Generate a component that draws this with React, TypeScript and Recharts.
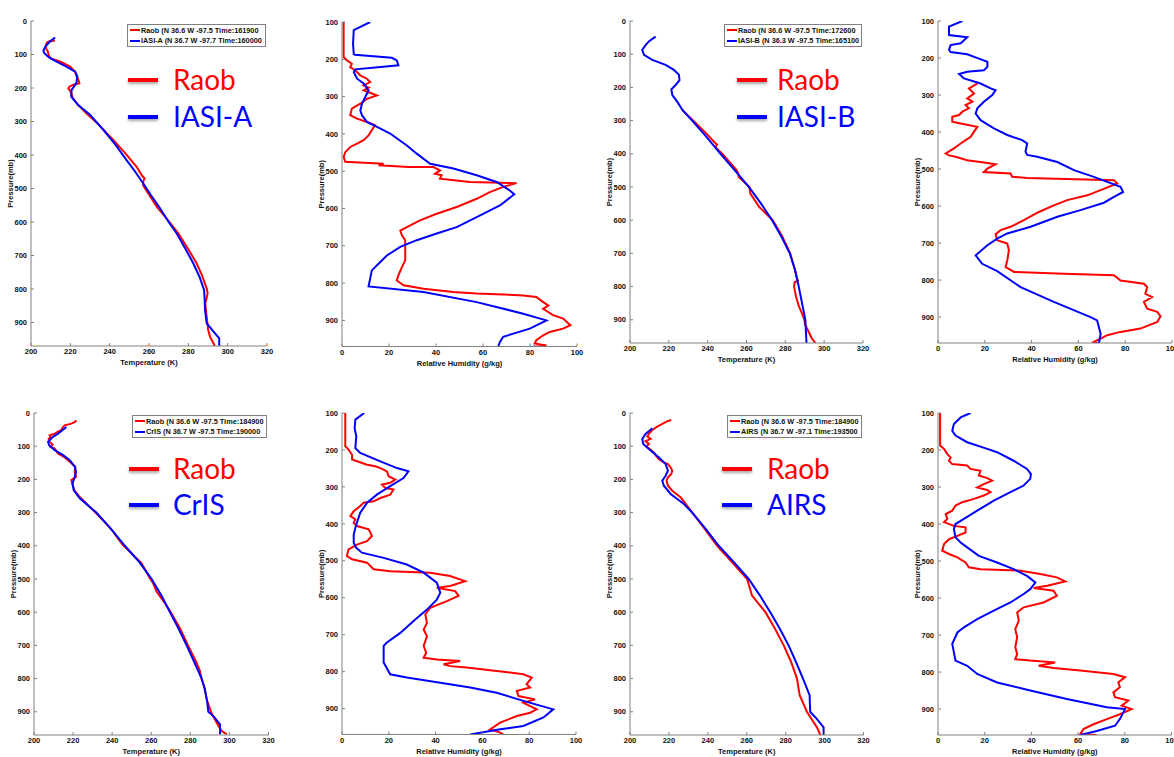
import React from "react"
import { LineChart, Line, XAxis, YAxis, Legend } from "recharts"

// [pressure (mb), value] pairs
type Pt = [number, number]

const tempTicks = [200, 220, 240, 260, 280, 300, 320]
const rhTicks = [0, 20, 40, 60, 80, 100]
const tPresTicks = [0, 100, 200, 300, 400, 500, 600, 700, 800, 900]
const wvPresTicks = [100, 200, 300, 400, 500, 600, 700, 800, 900]

const satNames = ["IASI-A", "IASI-B", "CrIS", "AIRS"]
const distances = ["23.6", "30.9", "9.7", "34"]
const raobInfo = [
  "Raob (N 36.6 W -97.5 Time:161900",
  "Raob (N 36.6 W -97.5 Time:172600",
  "Raob (N 36.6 W -97.5 Time:184900",
  "Raob (N 36.6 W -97.5 Time:184900",
]
const satInfo = [
  "IASI-A (N 36.7 W -97.7 Time:160000",
  "IASI-B (N 36.3 W -97.5 Time:165100",
  "CrIS (N 36.7 W -97.5 Time:190000",
  "AIRS (N 36.7 W -97.1 Time:193500",
]

// ---- temperature profiles
const t1Raob: Pt[] = [
  [58, 212.2], [61, 209], [65, 208], [75, 207.5], [82, 207.6], [90, 208.5], [97, 208.8], [105, 209.2],
  [112, 210], [121, 214.8], [136, 219.9], [151, 222.4], [166, 223.3], [178, 224.2], [186, 224.6],
  [190, 221.6], [196, 219.5], [201, 219], [207, 219.7], [214, 220.4], [230, 221.2], [251, 224],
  [276, 228.3], [310, 234.5], [355, 241.8], [395, 248], [435, 253.7], [462, 256.5], [470, 257.8],
  [478, 257.1], [490, 257], [504, 258.5], [554, 263.9], [590, 269], [634, 274.9], [680, 279.8],
  [723, 284.2], [760, 287], [798, 289.3], [812, 289.8], [827, 289.3], [843, 288.6], [882, 289.3],
  [922, 290.1], [942, 291], [970, 293.5],
]
const t1Sat: Pt[] = [
  [49, 212.2], [62, 209.5], [76, 207.3], [88, 206.3], [96, 206.8], [108, 209], [120, 212.5], [136, 218],
  [151, 222.4], [166, 223.6], [186, 223], [205, 220.7], [225, 220.4], [251, 224], [280, 230],
  [325, 236.8], [370, 243], [415, 248.6], [450, 253], [485, 257.1], [520, 261], [559, 265.6],
  [600, 270], [634, 274.1], [680, 278.5], [723, 282.5], [765, 285.8], [803, 288], [830, 288.3],
  [863, 288.5], [902, 289.3], [925, 292.5], [947, 295.7], [970, 295.7],
]
const t2Raob: Pt[] = [
  [268, 226.9], [300, 232.5], [340, 239.5], [365, 243.5], [372, 244.8], [380, 244], [400, 247.5],
  [450, 255], [460, 255.8], [470, 256], [500, 261.5], [520, 262], [560, 266.5], [600, 273.5],
  [650, 278.5], [700, 282.5], [740, 284.5], [775, 286], [782, 286.5], [787, 284.8], [800, 284.5],
  [830, 285.5], [860, 287], [880, 288.5], [900, 289.8], [915, 290.2], [930, 291.5], [955, 293.5],
  [970, 295.5],
]
const t2Sat: Pt[] = [
  [47, 213.2], [60, 210], [72, 208.1], [87, 206.3], [102, 207.2], [117, 211.5], [132, 218.3],
  [147, 222.6], [162, 225.2], [178, 225.5], [193, 223.5], [206, 221.3], [223, 221.8], [243, 224.3],
  [268, 227], [300, 232], [350, 239.5], [400, 246.6], [450, 254], [500, 261.2], [550, 267.5],
  [600, 273.2], [650, 278], [700, 282.3], [750, 285], [800, 286.9], [850, 288.6], [900, 290.3],
  [970, 290.9],
]
const t3Raob: Pt[] = [
  [22, 221.7], [27, 221], [32, 219.1], [37, 215.7], [45, 214.5], [52, 214], [57, 212], [62, 210.6],
  [67, 208], [72, 208.5], [78, 207.5], [87, 208], [95, 209.5], [102, 208.5], [107, 210.6], [115, 211.5],
  [122, 212.3], [128, 214], [134, 215.7], [147, 218.3], [162, 221.2], [177, 220.8], [192, 221.5],
  [202, 219.1], [210, 219.5], [217, 219.8], [234, 220.7], [250, 222.9], [300, 231.5], [340, 238],
  [357, 240.5], [372, 242.2], [400, 245.8], [412, 248], [452, 255], [500, 259.5], [513, 261],
  [538, 262.7], [573, 267], [600, 270], [650, 274.8], [700, 278.8], [750, 283], [775, 284.8],
  [803, 285.8], [823, 287], [863, 288.4], [904, 290.8], [923, 292.6], [943, 294.4], [958, 296.1],
  [968, 298.6],
]
const t3Sat: Pt[] = [
  [42, 216.6], [52, 214.5], [62, 212.3], [72, 209.7], [87, 207.2], [97, 207.7], [112, 210.6],
  [127, 214.9], [142, 218.3], [162, 220.9], [177, 221.5], [192, 220.9], [212, 219.7], [232, 220.3],
  [257, 223.4], [300, 231.9], [350, 239.5], [400, 246.5], [450, 254], [500, 260.2], [550, 265.2],
  [600, 269.6], [650, 274], [700, 278.1], [750, 282], [800, 285.8], [833, 287.5], [873, 288.7],
  [900, 289.2], [913, 291.8], [938, 295.2], [968, 295.2],
]
const t4Raob: Pt[] = [
  [21, 221.2], [25, 219], [33, 216.6], [41, 214], [51, 211.5], [63, 209.7], [71, 208.9], [78, 210.6],
  [85, 208], [93, 209.7], [101, 208.5], [111, 210.6], [121, 212.6], [128, 213.2], [139, 214.9],
  [149, 217.4], [154, 219.5], [164, 220.9], [174, 221.7], [184, 221.2], [194, 219.5], [204, 218.8],
  [219, 219.5], [234, 221.7], [254, 226], [300, 232], [350, 238.5], [400, 244.8], [450, 252.5],
  [500, 260.2], [550, 262.7], [600, 269.6], [650, 274.5], [700, 279], [750, 282.8], [800, 285.8],
  [850, 287.2], [900, 290.9], [947, 296.1], [970, 297.8],
]
const t4Sat: Pt[] = [
  [46, 211.5], [63, 208], [78, 206.3], [93, 206.8], [113, 210.6], [134, 214.9], [154, 218.3],
  [174, 219.5], [189, 218.3], [204, 216.6], [219, 217.4], [244, 220.9], [274, 227.7], [300, 232],
  [350, 239], [400, 245.6], [450, 253.5], [500, 261], [550, 266.8], [600, 272.1], [650, 277],
  [700, 281.5], [750, 285.3], [800, 288.9], [850, 292.3], [900, 292.6], [922, 296.1], [947, 299.5],
  [970, 299.5],
]

// ---- water vapour profiles
const wv1Raob: Pt[] = [
  [100, 0.7], [194, 0.7], [203, 2.1], [212, 4.2], [221, 3.5], [230, 5.7], [243, 7.8], [252, 10.6],
  [261, 12], [270, 9.2], [276, 11.3], [283, 9.2], [297, 14.9], [306, 10.6], [319, 7.8], [332, 4.2],
  [350, 3.5], [359, 6.4], [368, 10.6], [377, 14.1], [390, 12.7], [404, 11.3], [417, 9.2], [426, 6.4],
  [435, 3.5], [449, 1.4], [462, 0.7], [475, 1.4], [480, 17.7], [484, 15.6], [489, 28.3], [489, 38.9],
  [498, 41.7], [507, 39.6], [511, 42.4], [520, 41.7], [529, 54.5], [532, 74.3], [542, 68.6],
  [556, 62.9], [574, 57.3], [596, 48.8], [614, 40.3], [632, 33.2], [650, 27.6], [659, 24.8],
  [672, 25.5], [685, 26.9], [739, 26.9], [757, 25.5], [779, 24], [793, 23.3], [806, 26.2],
  [815, 34.7], [824, 47.4], [828, 57.3], [833, 77.1], [837, 82.7], [851, 85.6], [860, 87.8],
  [869, 85.6], [886, 89.8], [895, 94.1], [913, 97.2], [922, 94.1], [931, 88.4], [940, 85.6],
  [953, 82.7], [962, 82], [967, 87], [970, 81.3],
]
const wv1Sat: Pt[] = [
  [100, 12], [122, 5], [158, 4.7], [186, 5], [188, 5.5], [196, 21.2], [203, 23.3], [216, 24],
  [227, 5.7], [234, 5], [252, 6.4], [265, 9.2], [283, 11.3], [301, 9.9], [319, 8.5], [337, 7.8],
  [350, 8.5], [368, 10.6], [381, 14.9], [399, 20.5], [431, 27.6], [453, 31.8], [480, 37.5],
  [493, 47.4], [511, 57.3], [529, 65.8], [550, 71], [562, 73.3], [592, 67.2], [623, 57.3],
  [650, 48.8], [667, 40.3], [685, 31.8], [703, 24.8], [726, 19.1], [752, 14.9], [766, 12.7],
  [809, 11.3], [824, 34.7], [851, 57.3], [882, 77.1], [900, 87], [922, 79.9], [944, 68.6],
  [958, 67.2], [970, 66.5],
]
const wv2Raob: Pt[] = [
  [269, 16.8], [282, 13.2], [296, 15.4], [309, 12.5], [318, 14.7], [327, 11.8], [336, 13.2],
  [345, 10.4], [354, 9], [359, 6.1], [372, 6.1], [377, 9.7], [386, 16.8], [399, 15.4], [413, 14],
  [422, 11.8], [431, 9.7], [444, 6.8], [458, 3.3], [463, 4.7], [467, 7.5], [476, 12.5], [483, 20.4],
  [487, 24.6], [499, 21.1], [508, 19.6], [512, 31], [521, 31.7], [524, 38.1], [530, 75.2],
  [539, 76.6], [557, 69.5], [571, 63.8], [584, 55.2], [598, 49.5], [616, 43.1], [638, 36.7],
  [656, 31], [665, 26.8], [676, 24.6], [692, 25.3], [701, 29.6], [719, 30.3], [747, 29.6],
  [765, 28.9], [778, 32.5], [783, 53.8], [787, 75.2], [801, 78], [810, 88], [819, 89.4], [837, 88.6],
  [846, 91.5], [859, 88], [877, 89.4], [886, 93.7], [898, 95.1], [913, 93.7], [931, 86.5], [940, 78],
  [949, 72.3], [958, 69.5], [967, 66.6], [970, 68.8],
]
const wv2Sat: Pt[] = [
  [100, 10.4], [115, 4.7], [138, 4.7], [144, 12.5], [160, 9.7], [165, 5.4], [178, 4.7], [184, 5.4],
  [190, 12.5], [205, 18.9], [210, 21.1], [224, 21.1], [233, 19.6], [237, 12.5], [243, 9], [255, 11.1],
  [269, 18.2], [282, 22.5], [287, 24.6], [300, 23.2], [318, 19.6], [336, 16.8], [350, 16.1],
  [368, 18.2], [390, 23.9], [408, 29.6], [422, 36], [431, 38.1], [453, 37.4], [462, 38.1],
  [467, 42.4], [481, 51], [503, 58.1], [521, 66.6], [548, 78], [562, 79.1], [575, 75.2], [591, 70.9],
  [611, 60.9], [629, 51], [656, 39.6], [674, 29.6], [688, 25.3], [706, 21.1], [733, 16.1],
  [756, 18.9], [776, 25.3], [819, 35.3], [859, 49.5], [900, 65.2], [909, 68], [945, 69.5], [970, 68.8],
]
const wv3Raob: Pt[] = [
  [100, 1.4], [190, 1.4], [199, 2.8], [213, 4.3], [226, 4.3], [240, 10.7], [244, 14.2], [249, 16.4],
  [258, 19.2], [271, 19.9], [280, 22.8], [289, 20.6], [294, 17.1], [303, 18.5], [307, 22],
  [321, 20.6], [330, 16.4], [339, 13.5], [343, 9.2], [352, 7.8], [366, 5], [379, 3.6], [388, 5.7],
  [397, 5], [406, 6.4], [415, 11.4], [433, 12.8], [447, 10.7], [456, 6.4], [469, 2.8], [487, 2.1],
  [496, 4.3], [505, 10.7], [523, 13.5], [528, 20.6], [532, 37.7], [541, 46.2], [555, 52.6],
  [568, 46.2], [573, 40.5], [582, 48.4], [595, 49.8], [609, 44.8], [627, 37.7], [645, 35.6],
  [668, 36.3], [686, 34.9], [704, 36.3], [730, 34.9], [749, 36], [762, 34.9], [767, 40.5],
  [771, 50.5], [780, 43.4], [785, 46.2], [789, 53.3], [798, 66.1], [807, 77.5], [816, 81.1],
  [834, 78.9], [843, 80.4], [852, 74.7], [866, 75.4], [875, 82.5], [884, 77.5], [893, 80.4],
  [902, 83.2], [911, 80.4], [920, 74.7], [938, 67.6], [956, 63.3], [965, 67.6], [970, 69],
]
const wv3Sat: Pt[] = [
  [100, 9.5], [118, 5.7], [141, 5.4], [163, 6.1], [195, 5.7], [208, 7.8], [231, 16.4], [249, 23.5],
  [258, 28.4], [276, 26.3], [298, 20.6], [321, 14.9], [343, 10.7], [370, 7.8], [402, 6.1], [429, 5],
  [451, 5], [465, 6.1], [478, 8.5], [492, 17.8], [510, 27.7], [532, 34.9], [559, 40.5], [586, 42],
  [605, 40.5], [632, 36.3], [659, 31.3], [695, 24.9], [721, 19.2], [730, 17.8], [775, 17.8],
  [807, 20.6], [816, 27.7], [830, 42], [843, 54.8], [857, 66.1], [879, 77.5], [902, 90.3],
  [924, 86.1], [947, 77.5], [956, 67.6], [970, 54.8],
]
const wv4Raob: Pt[] = [
  [100, 0.9], [188, 0.9], [197, 2.6], [211, 4], [220, 5.4], [229, 4.7], [238, 6.1], [242, 12.5],
  [251, 13.9], [256, 18.2], [269, 17.5], [276, 21.1], [283, 23.2], [292, 19.6], [301, 16.8],
  [308, 21.1], [314, 22.5], [323, 19.6], [332, 15.4], [341, 10.4], [350, 7.5], [364, 6.1], [373, 3.3],
  [386, 4], [395, 2.6], [405, 6.8], [409, 11.8], [423, 11.8], [432, 8.3], [441, 4.7], [454, 2.6],
  [472, 1.8], [481, 4.7], [490, 8.3], [504, 11.8], [517, 13.2], [522, 18.2], [526, 35.3], [535, 43.8],
  [544, 50.9], [555, 54.5], [567, 46.7], [573, 41], [580, 49.5], [594, 50.9], [612, 45.2],
  [625, 36.7], [639, 33.9], [661, 34.6], [684, 33.1], [706, 33.9], [733, 33.1], [751, 33.9],
  [765, 33.1], [769, 39.5], [774, 50.2], [783, 43.1], [789, 49.5], [796, 60.9], [805, 75.1],
  [814, 80.1], [828, 77.2], [841, 77.9], [855, 75.1], [868, 75.8], [877, 81.5], [891, 78.7],
  [900, 82.9], [914, 77.9], [927, 72.3], [941, 66.6], [954, 62.3], [968, 60.9], [970, 68],
]
const wv4Sat: Pt[] = [
  [100, 13.9], [112, 9.7], [130, 6.8], [148, 6.1], [161, 7.5], [179, 12.5], [197, 21.1], [206, 25.3],
  [229, 32.4], [251, 38.1], [265, 39.8], [278, 39.5], [296, 36.7], [314, 31], [337, 23.9], [364, 16.8],
  [386, 11.1], [400, 7.5], [413, 6.8], [436, 7.5], [450, 9.7], [463, 12.5], [486, 17.5], [504, 25.3],
  [522, 32.4], [540, 38.1], [558, 41.7], [576, 39.5], [589, 36.7], [612, 31], [634, 23.9],
  [657, 16.8], [679, 11.1], [693, 8.3], [724, 6.1], [769, 7.5], [783, 12.5], [805, 16.8], [828, 25.3],
  [850, 39.5], [873, 55.2], [895, 72.3], [900, 80.1], [927, 77.9], [945, 75.8], [959, 68], [970, 60.9],
]

const GRAY = "#808080"
const RED = "#ff0000"
const BLUE = "#0000ff"
const FONT = "'Liberation Sans', Arial, Helvetica, sans-serif"
const YW = 32
const MT = 21
const XH = 20
const MR = 12
const MB = 4

type Box = { x: number; y: number; r: number; b: number }
type LegendSpot = { left: number; top: number; right: number }

const rows = (pts: Pt[]) => pts.map(([p, v]) => ({ p, v }))

const textStyle = { fontSize: 7.5, fill: "#111", fontFamily: FONT, fontWeight: "bold" as const }

function legendContent(width: number) {
  return (props: any) => {
    // keep Raob (red) first, as in the figure
    const items = [...(props.payload || [])].sort((a: any, b: any) => (a.color === RED ? -1 : b.color === RED ? 1 : 0))
    return (
      <div
        style={{
          width,
          height: 23,
          boxSizing: "border-box",
          border: `1px solid ${GRAY}`,
          background: "#fff",
          paddingLeft: 2,
          fontFamily: FONT,
          fontSize: 7.3,
          fontWeight: "bold",
          color: "#111",
          overflow: "hidden",
          whiteSpace: "nowrap",
        }}
      >
        {items.map((e: any) => (
          <div key={e.value} style={{ display: "flex", alignItems: "center", height: 10.5 }}>
            <span style={{ display: "inline-block", flex: "none", width: 10, height: 1.8, background: e.color, marginRight: 1 }} />
            <span>{e.value}</span>
          </div>
        ))}
      </div>
    )
  }
}

function Profile(props: {
  box: Box
  temp: boolean
  title: string
  raob: Pt[]
  sat: Pt[]
  raobName: string
  satName: string
  legend?: LegendSpot
}) {
  const { box, temp, title, raob, sat, raobName, satName, legend } = props
  const left = box.x - YW
  const top = box.y - MT
  const width = box.r - box.x + YW + MR
  const height = box.b - box.y + MT + XH + MB
  const xDomain = temp ? [200, 320] : [0, 100]
  const xTicks = temp ? tempTicks : rhTicks
  const yDomain = temp ? [0, 970] : [100, 970]
  const yTicks = temp ? tPresTicks : wvPresTicks

  return (
    <div style={{ position: "absolute", left, top }}>
      <LineChart width={width} height={height} margin={{ top: MT, right: MR, bottom: MB, left: 0 }}>
        <XAxis
          type="number"
          dataKey="v"
          domain={xDomain}
          ticks={xTicks}
          interval={0}
          allowDataOverflow
          height={XH}
          tickSize={-3}
          tickMargin={6}
          axisLine={{ stroke: GRAY }}
          tickLine={{ stroke: GRAY }}
          tick={textStyle}
          label={{
            value: temp ? "Temperature (K)" : "Relative Humidity (g/kg)",
            position: "insideBottom",
            offset: 1,
            ...textStyle,
          }}
        />
        <XAxis
          xAxisId="top"
          orientation="top"
          type="number"
          domain={xDomain}
          ticks={xTicks}
          interval={0}
          allowDataOverflow
          height={0}
          tickSize={-3}
          tick={false}
          axisLine={{ stroke: GRAY }}
          tickLine={{ stroke: GRAY }}
          label={{ value: title, position: "top", offset: 6, ...textStyle }}
        />
        <YAxis
          type="number"
          domain={yDomain}
          ticks={yTicks}
          interval={0}
          reversed
          allowDataOverflow
          width={YW}
          tickSize={-3}
          tickMargin={7}
          axisLine={{ stroke: GRAY }}
          tickLine={{ stroke: GRAY }}
          tick={textStyle}
          label={{
            value: "Pressure(mb)",
            angle: -90,
            position: "insideLeft",
            offset: 11,
            ...textStyle,
            style: { textAnchor: "middle" },
          }}
        />
        <YAxis
          yAxisId="right"
          orientation="right"
          type="number"
          domain={yDomain}
          ticks={yTicks}
          interval={0}
          reversed
          allowDataOverflow
          width={0}
          tickSize={-3}
          tick={false}
          axisLine={{ stroke: GRAY }}
          tickLine={{ stroke: GRAY }}
        />
        <Line
          data={rows(raob)}
          dataKey="p"
          name={raobName}
          stroke={RED}
          strokeWidth={2}
          dot={false}
          isAnimationActive={false}
        />
        <Line
          data={rows(sat)}
          dataKey="p"
          name={satName}
          stroke={BLUE}
          strokeWidth={2}
          dot={false}
          isAnimationActive={false}
        />
        {legend && (
          <Legend
            layout="horizontal"
            verticalAlign="middle"
            align="center"
            wrapperStyle={{ left: legend.left - left, top: legend.top - top, width: legend.right - legend.left }}
            content={legendContent(legend.right - legend.left)}
          />
        )}
      </LineChart>
    </div>
  )
}

// big coloured key drawn over the temperature panels
function BigKey(props: { lineX: number; textX: number; y1: number; y2: number; label: string }) {
  const { lineX, textX, y1, y2, label } = props
  const seg = (y: number, color: string) => (
    <div
      style={{
        position: "absolute",
        left: lineX,
        top: y - 2,
        width: 30,
        height: 4,
        background: color,
        boxShadow: "0 2px 3px rgba(0,0,0,0.35)",
      }}
    />
  )
  const txt = (y: number, color: string, s: string) => (
    <div
      style={{
        position: "absolute",
        left: textX,
        top: y - 14.8,
        fontFamily: "Lato, 'Open Sans', sans-serif",
        fontSize: 28,
        lineHeight: "28px",
        color,
        whiteSpace: "nowrap",
      }}
    >
      {s}
    </div>
  )
  return (
    <>
      {seg(y1, RED)}
      {seg(y2, BLUE)}
      {txt(y1, RED, "Raob")}
      {txt(y2, BLUE, label)}
    </>
  )
}

export default function App() {
  return (
    <div
      style={{
        position: "absolute",
        left: 0,
        top: 0,
        width: 1174,
        height: 757,
        overflow: "hidden",
        background: "#fff",
        fontFamily: FONT,
      }}
    >
      <Profile
        box={{ x: 31, y: 21, r: 267, b: 346 }}
        temp
        title={`T Distance from RAOB= ${distances[0]}km`}
        raob={t1Raob}
        sat={t1Sat}
        raobName={raobInfo[0]}
        satName={satInfo[0]}
        legend={{ left: 127, top: 24, right: 266 }}
      />
      <Profile
        box={{ x: 342, y: 21.5, r: 577, b: 346 }}
        temp={false}
        title={`WV Distance from RAOB= ${distances[0]}km`}
        raob={wv1Raob}
        sat={wv1Sat}
        raobName="Raob"
        satName={satNames[0]}
      />
      <Profile
        box={{ x: 629.5, y: 21, r: 862.5, b: 343 }}
        temp
        title={`T Distance from RAOB= ${distances[1]}km`}
        raob={t2Raob}
        sat={t2Sat}
        raobName={raobInfo[1]}
        satName={satInfo[1]}
        legend={{ left: 724, top: 24, right: 862 }}
      />
      <Profile
        box={{ x: 937.5, y: 21, r: 1171.5, b: 343 }}
        temp={false}
        title={`WV Distance from RAOB= ${distances[1]}km`}
        raob={wv2Raob}
        sat={wv2Sat}
        raobName="Raob"
        satName={satNames[1]}
      />
      <Profile
        box={{ x: 34, y: 412.5, r: 268.5, b: 734.5 }}
        temp
        title={`T Distance from RAOB= ${distances[2]}km`}
        raob={t3Raob}
        sat={t3Sat}
        raobName={raobInfo[2]}
        satName={satInfo[2]}
        legend={{ left: 132, top: 415, right: 267 }}
      />
      <Profile
        box={{ x: 342, y: 413, r: 576, b: 734.5 }}
        temp={false}
        title={`WV Distance from RAOB= ${distances[2]}km`}
        raob={wv3Raob}
        sat={wv3Sat}
        raobName="Raob"
        satName={satNames[2]}
      />
      <Profile
        box={{ x: 629.5, y: 412.5, r: 863, b: 734.5 }}
        temp
        title={`T Distance from RAOB= ${distances[3]}km`}
        raob={t4Raob}
        sat={t4Sat}
        raobName={raobInfo[3]}
        satName={satInfo[3]}
        legend={{ left: 727, top: 415, right: 862 }}
      />
      <Profile
        box={{ x: 937.5, y: 412.5, r: 1171, b: 734.5 }}
        temp={false}
        title={`WV Distance from RAOB= ${distances[3]}km`}
        raob={wv4Raob}
        sat={wv4Sat}
        raobName="Raob"
        satName={satNames[3]}
      />
      <BigKey lineX={128} textX={173} y1={80} y2={117} label={satNames[0]} />
      <BigKey lineX={737} textX={777} y1={80} y2={116.5} label={satNames[1]} />
      <BigKey lineX={129} textX={173} y1={468.5} y2={505} label={satNames[2]} />
      <BigKey lineX={722} textX={767} y1={469} y2={505} label={satNames[3]} />
    </div>
  )
}
